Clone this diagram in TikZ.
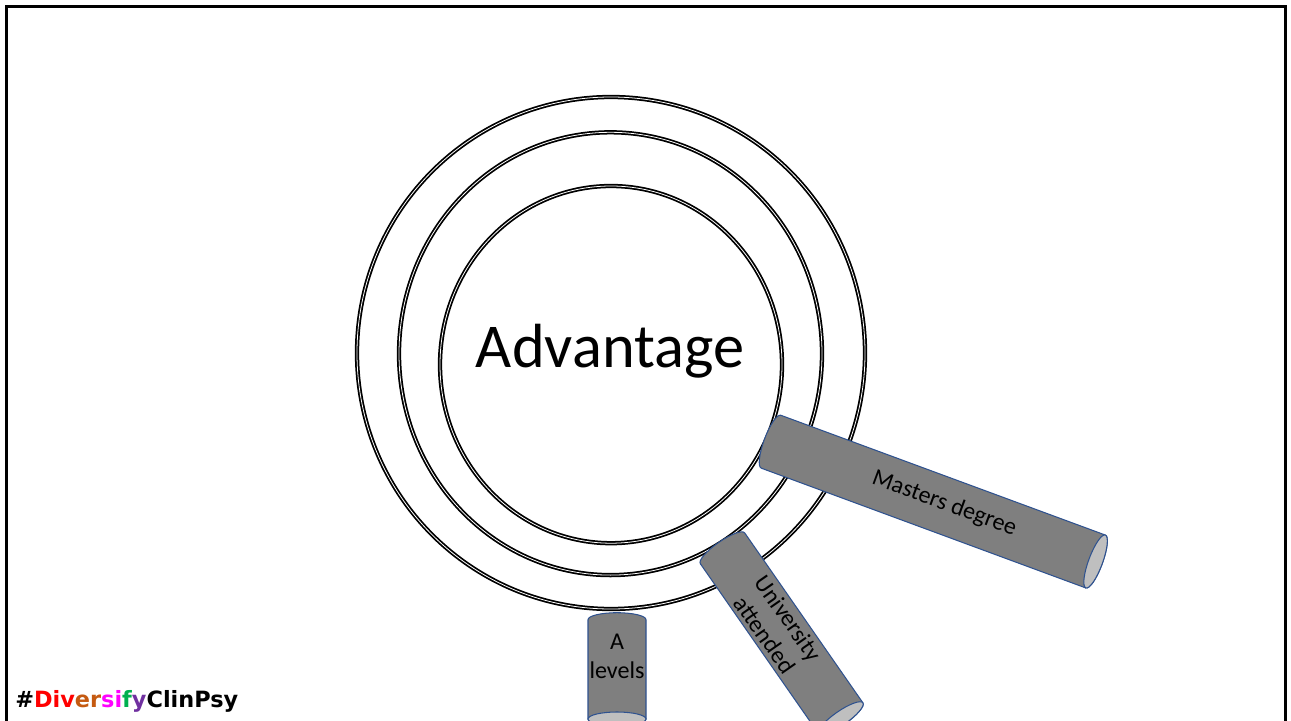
\documentclass[tikz,border=0pt]{standalone}
\usepackage{fontspec}
\setmainfont{Carlito}
\newfontfamily\tagfont{DejaVu Sans}
\definecolor{tubebody}{HTML}{7F7F7F}
\definecolor{tubeend}{HTML}{BFBFBF}
\definecolor{tubeline}{HTML}{2F528F}
\definecolor{tagred}{HTML}{FF0000}
\definecolor{tagbrown}{HTML}{C55A11}
\definecolor{tagpink}{HTML}{FF00FF}
\definecolor{taggreen}{HTML}{00B050}
\definecolor{tagpurple}{HTML}{7030A0}

\begin{document}
\begin{tikzpicture}[
  x=0.02cm, y=0.02cm,
  ring/.style={draw=black, line width=1pt, double=white, double distance=0.45pt},
  tube/.style={draw=tubeline, line width=0.6pt, fill=tubebody},
  tubecap/.style={draw=tubeline, line width=0.6pt, fill=tubeend},
  tubetext/.style={font=\fontsize{13.7}{16.5}\selectfont, align=center, inner sep=0pt}
]
\useasboundingbox (0,0) rectangle (1291,-720);
\clip (0,0) rectangle (1291,-720);
\draw[line width=1.7pt] (6.5,-6.5) rectangle (1285,-760);

% nested rings
\draw[ring] (611,-353) ellipse [x radius=254, y radius=256];
\draw[ring] (610.5,-353.7) ellipse [x radius=211.5, y radius=221.4];
\draw[ring] (611,-364.6) ellipse [x radius=171, y radius=178.6];
\node[font=\fontsize{35.5}{42}\selectfont] (adv) at (610,-351) {Advantage};

% masters tube
\begin{scope}[shift={(771,-441.7)}, rotate=-20.26]
  \draw[tube] (0,28.2) -- (346,28.2) arc[start angle=90, end angle=-90, x radius=7, y radius=28.2]
    -- (0,-28.2) arc[start angle=-90, end angle=-270, x radius=7, y radius=28.2] -- cycle;
  \draw[tubecap] (346,0) ellipse [x radius=7, y radius=28.2];
  \node[tubetext, transform shape] (masters) at (184,2) {Masters degree};
\end{scope}

% university tube
\begin{scope}[shift={(722.5,-548.3)}, rotate=-55.17]
  \draw[tube] (0,27) -- (207,27) arc[start angle=90, end angle=-90, x radius=7, y radius=27]
    -- (0,-27) arc[start angle=-90, end angle=-270, x radius=7, y radius=27] -- cycle;
  \draw[tubecap] (207,0) ellipse [x radius=7, y radius=27];
  \node[tubetext, transform shape] (uni) at (95,0) {University\\attended};
\end{scope}

% a levels tube
\begin{scope}[shift={(617,-619.7)}, rotate=-90]
  \draw[tube] (0,29) -- (99.3,29) arc[start angle=90, end angle=-90, x radius=7, y radius=29]
    -- (0,-29) arc[start angle=-90, end angle=-270, x radius=7, y radius=29] -- cycle;
  \draw[tubecap] (99.3,0) ellipse [x radius=7, y radius=29];
  \node[tubetext] (alevels) at (37,0) {A\\levels};
\end{scope}

\node[anchor=base west, inner sep=0pt, font=\tagfont\bfseries\fontsize{12.75}{15}\selectfont] (tag) at (15,-707)
  {\#\textcolor{tagred}{Div}\textcolor{tagbrown}{er}\textcolor{tagpink}{si}\textcolor{taggreen}{f}\textcolor{tagpurple}{y}ClinPsy};
\end{tikzpicture}
\end{document}
